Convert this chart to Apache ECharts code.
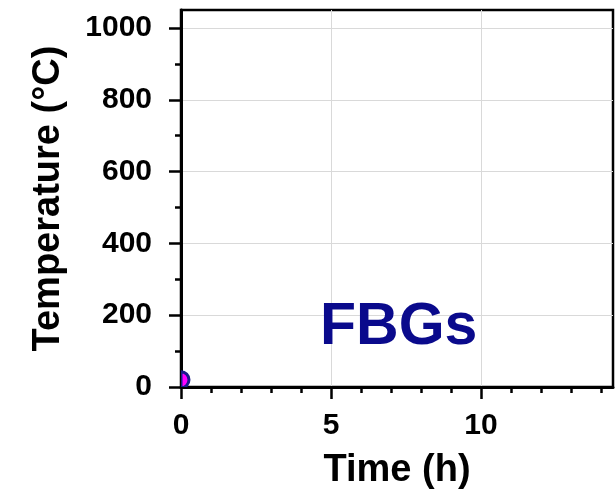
<!DOCTYPE html>
<html>
<head>
<meta charset="utf-8">
<script src="https://cdn.jsdelivr.net/npm/echarts@6/dist/echarts.min.js"></script>
<style>html,body{margin:0;padding:0;background:#fff}#c{width:616px;height:497px}</style>
</head>
<body>
<div id="c"></div>
<script>
// Data
const timeValues = [0];
const tempValues = [20];
const xMajorTicks = [0, 5, 10];
const xMinorTicks = [1, 2, 3, 4, 6, 7, 8, 9, 11, 12, 13, 14];
const yMajorTicks = [0, 200, 400, 600, 800, 1000];
const yMinorTicks = [100, 300, 500, 700, 900];
const xTitle = 'Time (h)';
const yTitle = 'Temperature (°C)';
const annotation = 'FBGs';

const FONT = '"Liberation Sans", Arial, sans-serif';
const chart = echarts.init(document.getElementById('c'), null, {renderer: 'canvas'});
const points = timeValues.map((t, i) => [t, tempValues[i]]);

const xCommon = {type: 'value', min: 0, max: 14.4, interval: 5, position: 'bottom'};
const yCommon = {type: 'value', min: 0, max: 1050, interval: 200, position: 'left'};
const plainLabel = v => String(v);

chart.setOption({
  animation: false,
  backgroundColor: '#fff',
  grid: {left: 181, top: 10, right: 3, bottom: 110, show: true, borderColor: '#000', borderWidth: 2.5, backgroundColor: 'transparent'},
  xAxis: [
    Object.assign({}, xCommon, {
      name: xTitle, nameLocation: 'middle', nameGap: 65,
      nameTextStyle: {fontFamily: FONT, fontWeight: 'bold', fontSize: 38, color: '#000'},
      axisLine: {show: true, lineStyle: {color: '#000', width: 3}},
      axisTick: {show: true, length: 12, lineStyle: {color: '#000', width: 2.5}, customValues: xMajorTicks},
      axisLabel: {show: true, margin: 24, formatter: plainLabel, fontFamily: FONT, fontWeight: 'bold', fontSize: 30, color: '#000', customValues: xMajorTicks},
      splitLine: {show: true, lineStyle: {color: '#d9d9d9', width: 1}}
    }),
    Object.assign({}, xCommon, {
      axisLine: {show: false},
      axisTick: {show: true, length: 6, lineStyle: {color: '#000', width: 2.5}, customValues: xMinorTicks},
      axisLabel: {show: false},
      splitLine: {show: false}
    })
  ],
  yAxis: [
    Object.assign({}, yCommon, {
      name: yTitle, nameLocation: 'middle', nameGap: 113,
      nameTextStyle: {fontFamily: FONT, fontWeight: 'bold', fontSize: 38, color: '#000'},
      axisLine: {show: true, lineStyle: {color: '#000', width: 3}},
      axisTick: {show: true, length: 12, lineStyle: {color: '#000', width: 2.5}, customValues: yMajorTicks},
      axisLabel: {show: true, margin: 29, formatter: plainLabel, fontFamily: FONT, fontWeight: 'bold', fontSize: 30, color: '#000', customValues: yMajorTicks},
      splitLine: {show: true, lineStyle: {color: '#d9d9d9', width: 1}}
    }),
    Object.assign({}, yCommon, {
      axisLine: {show: false},
      axisTick: {show: true, length: 6, lineStyle: {color: '#000', width: 2.5}, customValues: yMinorTicks},
      axisLabel: {show: false},
      splitLine: {show: false}
    })
  ],
  graphic: [{
    type: 'text', left: 320, top: 298, z: 10,
    style: {text: annotation, fontFamily: FONT, fontWeight: 'bold', fontSize: 59, fill: '#0a0a8c'}
  }],
  series: [{
    type: 'custom', xAxisIndex: 0, yAxisIndex: 0, clip: true,
    data: points,
    renderItem: function (params, api) {
      const c = api.coord([api.value(0), api.value(1)]);
      const cs = params.coordSys;
      // show only the part of the marker inside the plot area (left half is cut by the axis)
      const atLeftEdge = c[0] <= cs.x + 0.5;
      return {
        type: 'sector', z2: 5,
        shape: {cx: c[0], cy: c[1], r0: 0, r: 8,
          startAngle: atLeftEdge ? -Math.PI / 2 : 0,
          endAngle: atLeftEdge ? Math.PI / 2 : Math.PI * 2, clockwise: true},
        style: {fill: '#ff00ff', stroke: '#1a1a8c', lineWidth: 3}
      };
    }
  }]
});
</script>
</body>
</html>
